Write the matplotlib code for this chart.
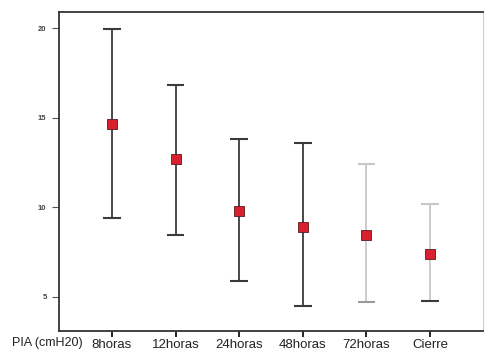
import matplotlib.pyplot as plt

plt.rcParams['font.family'] = ['Liberation Sans', 'DejaVu Sans']

categories = ["8horas", "12horas", "24horas", "48horas", "72horas", "Cierre"]
means = [14.66, 12.70, 9.78, 8.93, 8.43, 7.42]
upper = [19.95, 16.85, 13.82, 13.60, 12.40, 10.17]
lower = [9.38, 8.43, 5.90, 4.50, 4.72, 4.78]
bar_colors = ["#3a3a3a", "#3a3a3a", "#3a3a3a", "#3a3a3a", "#c8c8c8", "#c8c8c8"]
low_cap_colors = ["#3a3a3a", "#3a3a3a", "#3a3a3a", "#3a3a3a", "#9a9a9a", "#3a3a3a"]

fig = plt.figure(figsize=(4.93, 3.59), dpi=100)
ax = fig.add_axes([59 / 493, 1 - 331 / 359, 424 / 493, 319 / 359])

x = list(range(len(categories)))
for i in x:
    ax.vlines(i, lower[i], upper[i], color=bar_colors[i], lw=1.3, zorder=2)
    ax.hlines(upper[i], i - 0.14, i + 0.14, color=bar_colors[i], lw=1.5, zorder=2)
    ax.hlines(lower[i], i - 0.14, i + 0.14, color=low_cap_colors[i], lw=1.5, zorder=2)
ax.plot(x, means, ls="none", marker="s", ms=7, mfc="#d8202e",
        mec="#5a1a1a", mew=0.6, zorder=3)

ax.set_xlim(-0.83, 5.83)
ax.set_ylim(3.1, 20.9)
ax.set_yticks([5, 10, 15, 20])
ax.set_yticklabels(["5", "10", "15", "20"], fontsize=5.5, fontweight="bold",
                   color="#444444")
ax.set_xticks(x)
ax.set_xticklabels(categories, fontsize=9.5, color="#222222")
for i, t in enumerate(ax.xaxis.get_major_ticks()):
    t.tick1line.set_color(bar_colors[i])
ax.tick_params(axis="x", length=4, width=1.2, pad=2)
ax.tick_params(axis="y", length=5, width=0.8, color="#555555", pad=4)

for side in ["left", "top", "bottom"]:
    ax.spines[side].set_color("#333333")
    ax.spines[side].set_linewidth(1.3)
ax.spines["right"].set_color("#cccccc")
ax.spines["right"].set_linewidth(0.8)

fig.text(12 / 493, 1 - 343 / 359, "PIA (cmH20)", fontsize=9, color="#222222",
         va="center", ha="left")

fig.savefig("out.png", dpi=100)
